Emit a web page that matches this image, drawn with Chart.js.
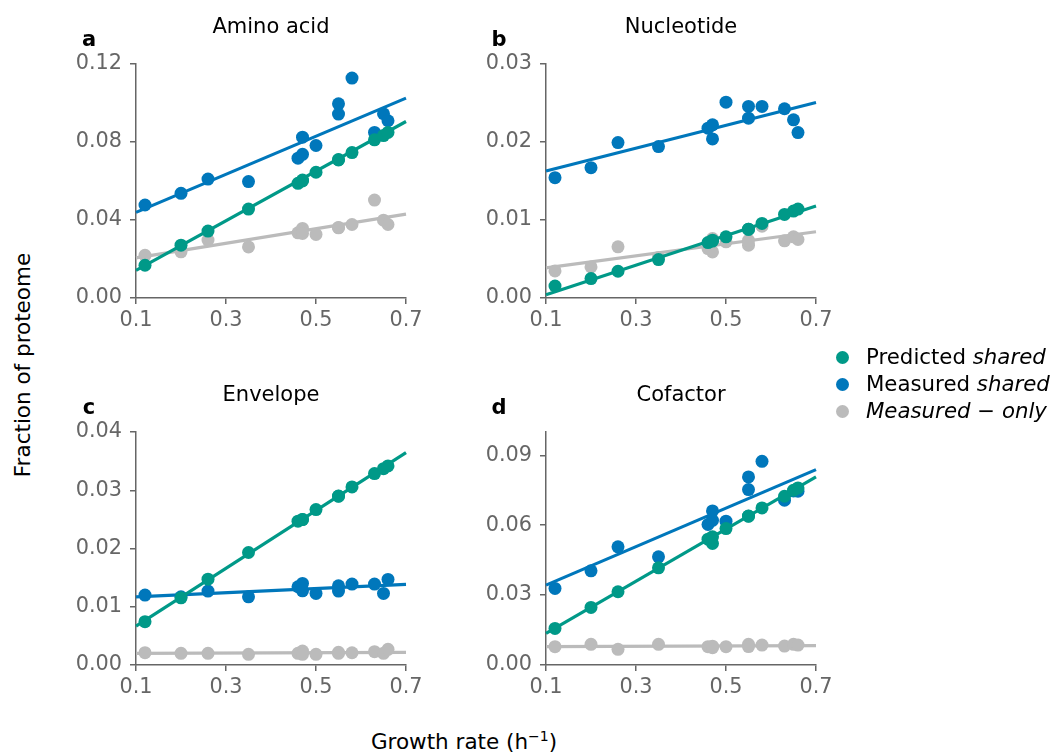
<!DOCTYPE html>
<html>
<head>
<meta charset="utf-8">
<script src="https://cdn.jsdelivr.net/npm/chart.js@4.4.1/dist/chart.umd.min.js"></script>
<style>
  body { margin: 0; background: #fff; font-family: "DejaVu Sans", sans-serif; }
  #wrap { position: relative; width: 1054px; height: 752px; overflow: hidden; }
  canvas { position: absolute; }
  .lbl { position: absolute; font-size: 21.5px; color: #000; white-space: nowrap; }
  .legend { position: absolute; left: 836px; top: 343px; font-size: 21.3px; line-height: 27px; }
  .legend div { white-space: nowrap; }
  .dot { display: inline-block; width: 13px; height: 13px; border-radius: 50%; margin-right: 17px; vertical-align: 0px; }
</style>
</head>
<body>
<div id="wrap">
  <canvas id="pa" width="372" height="338" style="left:56px;top:0px"></canvas>
  <canvas id="pb" width="372" height="338" style="left:466px;top:0px"></canvas>
  <canvas id="pc" width="372" height="335" style="left:56px;top:370px"></canvas>
  <canvas id="pd" width="372" height="335" style="left:466px;top:370px"></canvas>
  <div class="lbl" style="left:22px;top:365px;transform:translate(-50%,-50%) rotate(-90deg)">Fraction of proteome</div>
  <div class="lbl" style="left:464px;top:741px;transform:translate(-50%,-50%)">Growth rate (h<sup style="font-size:14px">−1</sup>)</div>
  <div class="legend">
    <div><span class="dot" style="background:#009988"></span>Predicted <i>shared</i></div>
    <div><span class="dot" style="background:#0077BB"></span>Measured <i>shared</i></div>
    <div><span class="dot" style="background:#BBBBBB"></span><i>Measured − only</i></div>
  </div>
</div>
<script>
// growth rates of the conditions (h^-1)
const growthRate = [0.12, 0.20, 0.26, 0.35, 0.46, 0.47, 0.47, 0.50, 0.55, 0.55, 0.58, 0.63, 0.65, 0.66];
const fitX = [0.1, 0.7];
const xTicks = [0.1, 0.3, 0.5, 0.7];

// a - Amino acid
const aminoPredicted = [0.0168, 0.0271, 0.0343, 0.0456, 0.0588, 0.0600, 0.0605, 0.0645, 0.0708, 0.0710, 0.0746, 0.0811, 0.0833, 0.0849];
const aminoMeasured  = [0.0477, 0.0537, 0.0610, 0.0597, 0.0717, 0.0737, 0.0825, 0.0782, 0.0943, 0.0996, 0.1128, 0.0849, 0.0945, 0.0909];
const aminoOnly      = [0.0219, 0.0237, 0.0297, 0.0262, 0.0334, 0.0357, 0.0331, 0.0326, 0.0360, 0.0362, 0.0377, 0.0502, 0.0399, 0.0377];
const aminoFitPredicted = [0.0142, 0.0905];
const aminoFitMeasured  = [0.0439, 0.1025];
const aminoFitOnly      = [0.0206, 0.0430];
const aminoTicks = [0, 0.04, 0.08, 0.12];

// b - Nucleotide
const nucPredicted = [0.00154, 0.00249, 0.00343, 0.00493, 0.00711, 0.00741, 0.00730, 0.00784, 0.00883, 0.00880, 0.00956, 0.01071, 0.01114, 0.01140];
const nucMeasured  = [0.01543, 0.01671, 0.01993, 0.01941, 0.02177, 0.02220, 0.02040, 0.02511, 0.02456, 0.02306, 0.02456, 0.02426, 0.02284, 0.02121];
const nucOnly      = [0.00347, 0.00399, 0.00656, 0.00520, 0.00634, 0.00763, 0.00591, 0.00720, 0.00677, 0.00740, 0.00920, 0.00733, 0.00784, 0.00750];
const nucFitPredicted = [0.00043, 0.01179];
const nucFitMeasured  = [0.01629, 0.02507];
const nucFitOnly      = [0.00386, 0.00849];
const nucTicks = [0, 0.01, 0.02, 0.03];

// c - Envelope
const envPredicted = [0.00743, 0.01154, 0.01474, 0.01931, 0.02469, 0.02497, 0.02500, 0.02669, 0.02897, 0.02900, 0.03057, 0.03286, 0.03371, 0.03417];
const envMeasured  = [0.01200, 0.01171, 0.01269, 0.01171, 0.01343, 0.01400, 0.01274, 0.01229, 0.01360, 0.01269, 0.01389, 0.01389, 0.01229, 0.01469];
const envOnly      = [0.00211, 0.00200, 0.00200, 0.00183, 0.00200, 0.00240, 0.00183, 0.00183, 0.00217, 0.00200, 0.00210, 0.00229, 0.00200, 0.00269];
const envFitPredicted = [0.00669, 0.03646];
const envFitMeasured  = [0.01171, 0.01383];
const envFitOnly      = [0.00200, 0.00217];
const envTicks = [0, 0.01, 0.02, 0.03, 0.04];

// d - Cofactor
const cofPredicted = [0.01571, 0.02471, 0.03143, 0.04171, 0.05400, 0.05214, 0.05500, 0.05857, 0.06386, 0.06390, 0.06743, 0.07243, 0.07500, 0.07600];
const cofMeasured  = [0.03286, 0.04043, 0.05071, 0.04643, 0.06029, 0.06210, 0.06614, 0.06171, 0.07529, 0.08071, 0.08743, 0.07071, 0.07471, 0.07457];
const cofOnly      = [0.00786, 0.00886, 0.00671, 0.00886, 0.00786, 0.00743, 0.00810, 0.00786, 0.00886, 0.00790, 0.00857, 0.00814, 0.00886, 0.00857];
const cofFitPredicted = [0.01357, 0.08071];
const cofFitMeasured  = [0.03429, 0.08386];
const cofFitOnly      = [0.00786, 0.00829];
const cofTicks = [0, 0.03, 0.06, 0.09];

const GREEN = '#009988', BLUE = '#0077BB', GREY = '#BBBBBB', AXIS = '#666666';

function pts(ys) { return growthRate.map((x, i) => ({ x: x, y: ys[i] })); }
function fit(ys) { return fitX.map((x, i) => ({ x: x, y: ys[i] })); }

// draws the panel title and letter above the plot area
const panelText = {
  id: 'panelText',
  afterDraw(chart, args, opts) {
    const ctx = chart.ctx, a = chart.chartArea;
    ctx.save();
    ctx.fillStyle = '#000';
    ctx.textBaseline = 'alphabetic';
    ctx.textAlign = 'center';
    ctx.font = '21px "DejaVu Sans"';
    ctx.fillText(opts.title, (a.left + a.right) / 2, a.top - 31.5);
    ctx.font = 'bold 21px "DejaVu Sans"';
    ctx.fillText(opts.letter, a.left - 47, a.top - 18.5);
    ctx.restore();
  }
};

function makePanel(id, letter, title, pred, meas, only, fPred, fMeas, fOnly, yTicks, yMax, yDec, padTop) {
  const scatter = (data, color, order) => ({
    type: 'scatter', data: pts(data), backgroundColor: color, borderColor: color,
    pointRadius: 6.5, pointBorderWidth: 0, pointHoverRadius: 6.5, order: order, clip: false
  });
  const line = (data, color, order) => ({
    type: 'line', data: fit(data), borderColor: color, borderWidth: 3.2,
    pointRadius: 0, fill: false, order: order, clip: false
  });
  new Chart(document.getElementById(id), {
    type: 'scatter',
    data: {
      datasets: [
        scatter(pred, GREEN, 0), line(fPred, GREEN, 1),
        scatter(meas, BLUE, 2), line(fMeas, BLUE, 3),
        scatter(only, GREY, 4), line(fOnly, GREY, 5)
      ]
    },
    options: {
      responsive: false,
      animation: false,
      devicePixelRatio: 1,
      layout: { padding: { top: padTop, right: 22, left: 0, bottom: 0 } },
      plugins: {
        legend: { display: false },
        tooltip: { enabled: false },
        panelText: { title: title, letter: letter }
      },
      scales: {
        x: {
          type: 'linear', min: 0.1, max: 0.7,
          afterBuildTicks: s => { s.ticks = xTicks.map(v => ({ value: v })); },
          afterFit: s => { s.height = 40; },
          border: { display: true, color: AXIS, width: 1.5 },
          grid: { drawOnChartArea: false, drawTicks: true, tickLength: 6, color: AXIS, lineWidth: 1.5 },
          ticks: { color: AXIS, font: { family: 'DejaVu Sans', size: 20.8 }, padding: 4,
                   autoSkip: false, maxRotation: 0, callback: v => v.toFixed(1) }
        },
        y: {
          type: 'linear', min: 0, max: yMax,
          afterBuildTicks: s => { s.ticks = yTicks.map(v => ({ value: v })); },
          afterFit: s => { s.width = 80; },
          border: { display: true, color: AXIS, width: 1.5 },
          grid: { drawOnChartArea: false, drawTicks: true, tickLength: 6, color: AXIS, lineWidth: 1.5 },
          ticks: { color: AXIS, font: { family: 'DejaVu Sans', size: 20.8 }, padding: 8,
                   callback: v => v.toFixed(yDec) }
        }
      }
    },
    plugins: [panelText]
  });
}

makePanel('pa', 'a', 'Amino acid', aminoPredicted, aminoMeasured, aminoOnly,
  aminoFitPredicted, aminoFitMeasured, aminoFitOnly, aminoTicks, 0.12, 2, 64);
makePanel('pb', 'b', 'Nucleotide', nucPredicted, nucMeasured, nucOnly,
  nucFitPredicted, nucFitMeasured, nucFitOnly, nucTicks, 0.03, 2, 64);
makePanel('pc', 'c', 'Envelope', envPredicted, envMeasured, envOnly,
  envFitPredicted, envFitMeasured, envFitOnly, envTicks, 0.04, 2, 62);
makePanel('pd', 'd', 'Cofactor', cofPredicted, cofMeasured, cofOnly,
  cofFitPredicted, cofFitMeasured, cofFitOnly, cofTicks, 0.1, 2, 62);
</script>
</body>
</html>
